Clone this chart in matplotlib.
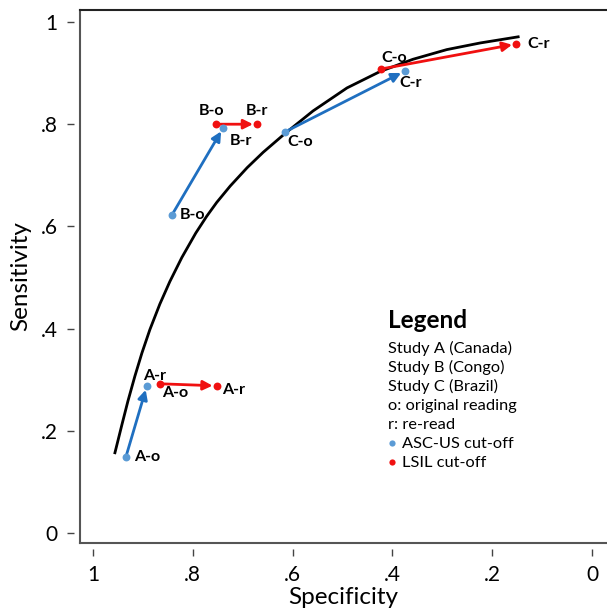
import matplotlib.pyplot as plt

plt.rcParams['font.family'] = ['Lato', 'DejaVu Sans']

# summary ROC curve
curve_spec = [0.956, 0.942, 0.930, 0.916, 0.902, 0.886, 0.866, 0.846, 0.822, 0.794, 0.772,
              0.752, 0.725, 0.691, 0.659, 0.615, 0.559, 0.491, 0.425, 0.359, 0.291, 0.224, 0.148]
curve_sens = [0.157, 0.212, 0.258, 0.307, 0.352, 0.398, 0.448, 0.492, 0.539, 0.587, 0.620,
              0.647, 0.679, 0.715, 0.745, 0.782, 0.826, 0.871, 0.903, 0.927, 0.946, 0.959, 0.971]

studies = ['A', 'B', 'C']
asc_o_spec = [0.934, 0.842, 0.615]
asc_o_sens = [0.149, 0.622, 0.785]
asc_r_spec = [0.892, 0.739, 0.375]
asc_r_sens = [0.288, 0.793, 0.904]
lsil_o_spec = [0.866, 0.754, 0.423]
lsil_o_sens = [0.292, 0.800, 0.908]
lsil_r_spec = [0.752, 0.671, 0.152]
lsil_r_sens = [0.288, 0.800, 0.957]

legend_lines = ['Study A (Canada)', 'Study B (Congo)', 'Study C (Brazil)',
                'o: original reading', 'r: re-read']

blue_pt = '#5b9bd5'
blue_ln = '#1f6fc0'
red = '#f01010'

fig = plt.figure(figsize=(6.07, 6.15), dpi=100)
ax = fig.add_axes([80 / 607, 72 / 615, 527 / 607, 533 / 615])

ax.plot(curve_spec, curve_sens, color='black', lw=2, solid_joinstyle='round')

def arrows(xs0, ys0, xs1, ys1, col):
    for x0, y0, x1, y1 in zip(xs0, ys0, xs1, ys1):
        ax.annotate('', xy=(x1, y1), xytext=(x0, y0),
                    arrowprops=dict(arrowstyle='-|>', color=col, lw=2,
                                    shrinkA=0, shrinkB=3, mutation_scale=14))

arrows(asc_o_spec, asc_o_sens, asc_r_spec, asc_r_sens, blue_ln)
arrows(lsil_o_spec, lsil_o_sens, lsil_r_spec, lsil_r_sens, red)

for xs, ys in [(asc_o_spec, asc_o_sens), (asc_r_spec, asc_r_sens)]:
    ax.scatter(xs, ys, s=32, color=blue_pt, zorder=5, linewidths=0)
for xs, ys in [(lsil_o_spec, lsil_o_sens), (lsil_r_spec, lsil_r_sens)]:
    ax.scatter(xs, ys, s=32, color=red, zorder=5, linewidths=0)

# label offsets in pixels: (dx, dy, ha)
off_asc_o = [(8, 0, 'left'), (8, 0, 'left'), (2, -10, 'left')]
off_asc_r = [(-4, 10, 'left'), (7, -13, 'left'), (-6, -12, 'left')]
off_lsil_o = [(2, -9, 'left'), (-4, 13, 'center'), (0, 11, 'left')]
off_lsil_r = [(5, -4, 'left'), (0, 13, 'center'), (11, 0, 'left')]

def labels(xs, ys, suffix, offs):
    for s, x, y, (dx, dy, ha) in zip(studies, xs, ys, offs):
        ax.annotate(s + suffix, (x, y), xytext=(dx, dy), textcoords='offset pixels',
                    ha=ha, va='center', fontsize=11.5, fontweight='bold', zorder=6)

labels(asc_o_spec, asc_o_sens, '-o', off_asc_o)
labels(asc_r_spec, asc_r_sens, '-r', off_asc_r)
labels(lsil_o_spec, lsil_o_sens, '-o', off_lsil_o)
labels(lsil_r_spec, lsil_r_sens, '-r', off_lsil_r)

# legend block
lx = (388 - 80) / 527
def fy(py):
    return (543 - py) / 533
ax.text(lx, fy(320), 'Legend', transform=ax.transAxes, fontsize=17.5,
        fontweight='bold', va='center', ha='left')
for i, t in enumerate(legend_lines):
    ax.text(lx, fy(348 + 19.2 * i), t, transform=ax.transAxes, fontsize=11.8,
            va='center', ha='left')
for i, (t, c) in enumerate([('ASC-US cut-off', blue_pt), ('LSIL cut-off', red)]):
    py = 348 + 19.2 * (5 + i)
    ax.scatter([(392 - 80) / 527], [fy(py - 1)], s=20, color=c, linewidths=0,
               transform=ax.transAxes, clip_on=False)
    ax.text((402 - 80) / 527, fy(py), t, transform=ax.transAxes, fontsize=11.8,
            va='center', ha='left')

ax.set_xlim(1.026, -0.03)
ax.set_ylim(-0.0196, 1.0235)
ticks = [0, 0.2, 0.4, 0.6, 0.8, 1]
tlabels = ['0', '.2', '.4', '.6', '.8', '1']
ax.set_xticks(ticks)
ax.set_xticklabels(tlabels)
ax.set_yticks(ticks)
ax.set_yticklabels(tlabels, rotation=90, va='center')

for side in ['left', 'bottom']:
    ax.spines[side].set_position(('outward', 4))
    ax.spines[side].set_visible(False)
ax.spines['right'].set_visible(False)
ax.spines['top'].set_color('#222222')
ax.spines['top'].set_linewidth(1.5)
ax.plot([0, 0], [0, 1], transform=ax.transAxes, color='#555555', lw=1.5, clip_on=False)
ax.plot([0, 1], [0, 0], transform=ax.transAxes, color='#555555', lw=1.5, clip_on=False)

ax.tick_params(length=5, width=1, color='#444444', labelsize=15, pad=7)
ax.set_xlabel('Specificity', fontsize=17.5, labelpad=1)
ax.set_ylabel('Sensitivity', fontsize=17.5, labelpad=7)

fig.savefig('out.png', dpi=100)
